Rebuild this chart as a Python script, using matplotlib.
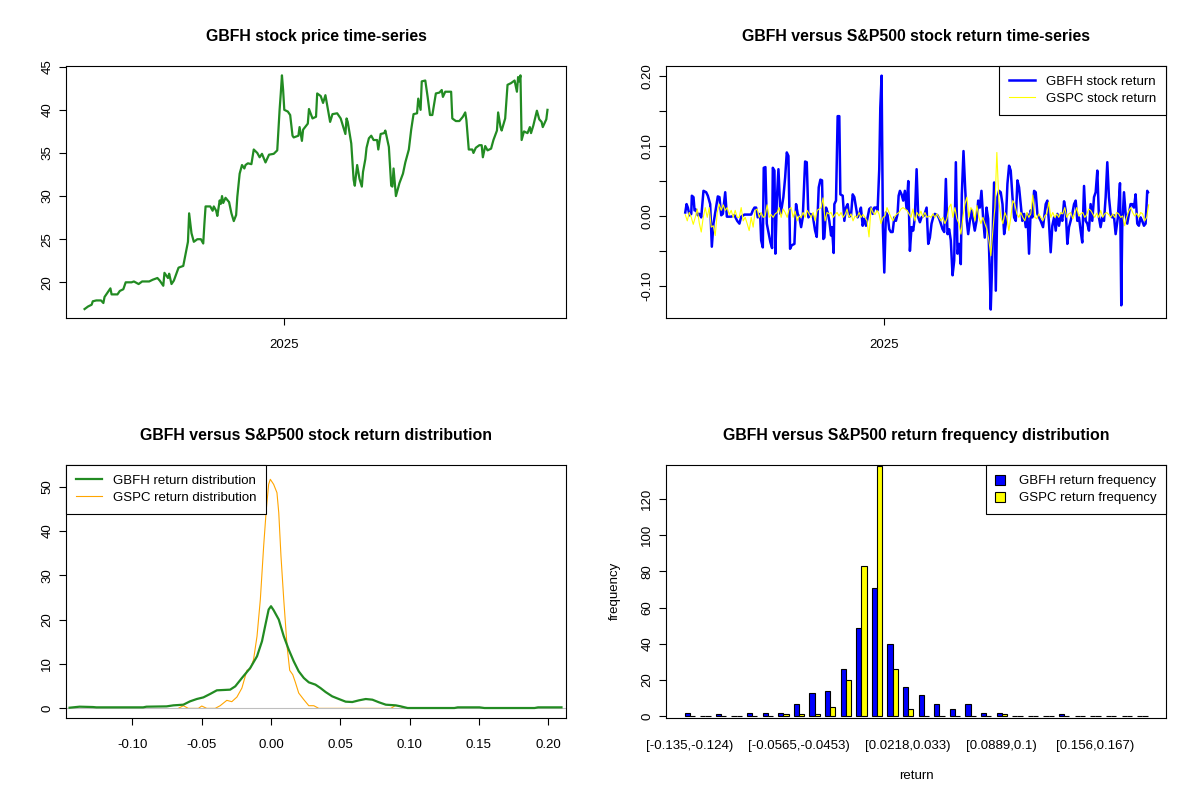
import matplotlib
matplotlib.use("Agg")
import matplotlib.pyplot as plt
import numpy as np
import pandas as pd

plt.rcParams['font.family'] = ['Liberation Sans', 'DejaVu Sans']

# first trading day of the GBFH series
start = pd.Timestamp('2024-07-15')

# GBFH price (days since start, close)
price_day = [0, 3, 6, 7, 10, 14, 16, 17, 20, 22,
             23, 28, 30, 33, 35, 40, 42, 46, 49, 55,
             58, 62, 64, 67, 68, 71, 72, 74, 76, 80,
             84, 86, 88, 89, 91, 93, 96, 99, 101, 102,
             103, 107, 109, 110, 112, 113, 115, 116, 117, 118,
             120, 123, 125, 127, 129, 130, 132, 134, 136, 137,
             139, 142, 144, 147, 149, 151, 154, 157, 161, 164,
             166, 167, 168, 169, 170, 173, 175, 177, 178, 182,
             183, 185, 186, 190, 191, 194, 197, 198, 201, 203,
             205, 209, 211, 215, 218, 222, 223, 224, 227, 229,
             230, 232, 234, 236, 237, 239, 240, 242, 244, 246,
             249, 250, 252, 255, 256, 259, 261, 262, 263, 265,
             268, 271, 273, 276, 278, 280, 283, 284, 286, 287,
             290, 292, 294, 296, 299, 302, 304, 305, 307, 312,
             313, 316, 319, 322, 324, 325, 327, 330, 331, 333,
             336, 338, 339, 341, 343, 346, 348, 351, 352, 354,
             355, 358, 359, 360, 363, 366, 368, 369, 370, 371,
             372, 374, 377, 379, 380, 382, 385, 387, 389, 390,
             392, 393, 394]
price = [16.9, 17.2, 17.4, 17.8, 17.9, 17.9, 17.6, 18.3, 18.9, 19.3,
         18.6, 18.6, 19.0, 19.2, 20.0, 20.0, 20.1, 19.8, 20.1, 20.1,
         20.3, 20.5, 20.2, 19.6, 21.1, 20.5, 21.0, 19.8, 20.2, 21.7,
         21.9, 23.3, 24.7, 28.0, 25.7, 24.7, 25.0, 25.0, 24.5, 26.8,
         28.8, 28.8, 28.3, 28.8, 28.3, 27.7, 29.5, 29.1, 30.0, 29.2,
         29.8, 29.3, 28.0, 27.1, 27.8, 29.9, 32.6, 33.6, 33.2, 33.6,
         33.8, 33.7, 35.4, 35.0, 34.5, 34.9, 33.9, 34.8, 34.9, 35.3,
         40.0, 41.9, 44.0, 42.3, 40.0, 39.8, 39.4, 37.0, 36.8, 37.0,
         38.0, 36.4, 37.7, 38.4, 40.1, 39.0, 39.2, 41.9, 41.6, 40.8,
         41.7, 38.6, 39.5, 39.6, 39.0, 37.2, 39.0, 38.6, 36.1, 31.9,
         31.2, 33.6, 32.0, 31.1, 32.8, 34.3, 35.6, 36.7, 37.0, 36.5,
         36.5, 35.4, 37.2, 37.3, 37.6, 35.7, 31.2, 31.1, 33.2, 30.0,
         31.5, 32.6, 33.9, 35.4, 37.7, 39.5, 39.6, 41.3, 40.0, 43.3,
         43.4, 41.5, 39.4, 39.4, 41.9, 42.0, 42.3, 41.5, 42.1, 42.1,
         39.0, 38.7, 38.7, 39.2, 39.7, 38.8, 35.4, 35.4, 35.0, 35.6,
         35.9, 35.9, 34.5, 35.8, 35.3, 35.5, 36.5, 37.6, 39.7, 38.0,
         37.6, 39.0, 41.0, 42.9, 43.1, 43.4, 42.1, 43.8, 43.3, 44.0,
         36.5, 37.5, 37.3, 38.0, 37.3, 38.2, 39.9, 38.9, 38.6, 38.0,
         38.6, 38.9, 40.0]

# GBFH daily return (days since start, return)
gbfh_day = [0.6, 1.7, 2.8, 4.2, 5.7, 6.2, 7.6, 8.5, 9.9, 11.3,
            12.7, 14.2, 16.1, 18.4, 19.8, 21.8, 23.2, 24.6, 28.3, 29.7,
            31.2, 32.6, 34.6, 36.0, 39.7, 42.5, 44.8, 46.7, 48.2, 51.0,
            56.7, 58.1, 59.5, 60.9, 62.3, 64.3, 65.2, 66.6, 67.4, 68.8,
            70.0, 71.4, 73.1, 74.5, 75.1, 76.5, 77.3, 78.5, 79.9, 81.6,
            82.7, 84.1, 85.6, 87.0, 88.4, 89.8, 91.2, 93.5, 94.9, 96.3,
            97.7, 99.2, 100.6, 102.6, 104.0, 105.4, 106.8, 109.1, 111.1, 112.5,
            114.2, 115.6, 117.0, 118.1, 119.0, 120.4, 121.8, 123.2, 124.7, 125.5,
            126.9, 127.5, 128.9, 130.3, 131.7, 132.6, 134.6, 136.0, 137.4, 138.8,
            140.2, 141.7, 143.1, 144.5, 145.9, 147.3, 148.7, 150.1, 151.6, 153.0,
            154.4, 155.8, 157.2, 158.6, 160.1, 161.5, 162.9, 164.3, 165.7, 166.6,
            167.7, 168.8, 170.0, 171.4, 172.8, 174.2, 175.6, 177.1, 178.5, 179.9,
            181.3, 182.2, 183.3, 184.7, 186.1, 187.5, 189.0, 190.4, 191.8, 193.2,
            194.6, 196.0, 197.5, 198.9, 200.3, 201.7, 204.0, 206.0, 207.4, 208.8,
            210.2, 211.6, 213.0, 215.3, 216.7, 218.1, 219.6, 221.0, 222.4, 223.8,
            225.2, 226.6, 228.1, 229.5, 230.9, 232.3, 233.7, 235.1, 236.0, 237.4,
            238.8, 240.2, 241.4, 242.8, 244.2, 245.6, 247.0, 248.5, 249.9, 251.3,
            252.7, 254.1, 255.5, 257.0, 258.4, 259.8, 260.6, 261.5, 262.6, 263.5,
            264.9, 266.3, 267.7, 269.1, 270.6, 272.0, 273.4, 274.8, 276.2, 277.6,
            279.1, 280.5, 281.9, 283.3, 284.7, 286.1, 287.5, 289.0, 290.4, 291.8,
            293.2, 294.6, 296.0, 297.5, 298.9, 300.3, 301.7, 303.1, 305.1, 307.4,
            308.8, 310.2, 311.6, 313.0, 314.5, 315.9, 317.3, 318.7, 320.1, 321.5,
            323.0, 324.4, 325.8, 327.2, 328.6, 330.0, 331.5, 332.9, 334.3, 335.7,
            337.1, 338.5, 340.0, 341.4, 342.8, 344.2, 345.6, 347.0, 348.5, 349.9,
            351.3, 352.7, 354.1, 355.5, 357.0, 358.4, 359.8, 361.2, 362.6, 364.0,
            365.4, 366.9, 368.8, 370.6, 371.7, 372.5, 374.0, 375.4, 376.8, 378.2,
            379.6, 381.0, 382.5, 383.9, 385.3, 386.7, 388.1, 389.5, 391.0, 392.4,
            393.8, 394.4]
gbfh_ret = [0.005, 0.017, 0.012, 0.001, 0.003, 0.029, 0.027, 0.008, 0.009, 0.001,
            0.003, -0.002, 0.036, 0.034, 0.029, 0.017, -0.044, -0.011, 0.028, 0.027,
            0.001, 0.003, 0.034, -0.001, -0.001, 0.001, -0.007, -0.011, -0.001, 0.002,
            0.002, 0.008, 0.012, 0.012, -0.002, 0.003, -0.035, -0.045, 0.069, 0.070,
            -0.011, -0.023, -0.038, -0.046, 0.069, 0.065, -0.054, 0.022, 0.067, 0.003,
            0.012, 0.027, 0.055, 0.091, 0.086, -0.047, -0.042, -0.040, 0.017, 0.003,
            -0.002, -0.016, -0.002, 0.078, 0.077, -0.002, 0.003, 0.001, -0.021, -0.030,
            0.041, 0.052, 0.051, -0.033, -0.031, 0.012, 0.005, -0.007, -0.028, -0.016,
            -0.053, 0.017, 0.022, 0.143, 0.143, 0.031, 0.029, -0.007, 0.012, 0.017,
            -0.001, 0.001, 0.031, 0.027, 0.012, -0.002, 0.003, 0.012, -0.014, -0.004,
            -0.014, -0.002, 0.010, 0.012, 0.003, 0.012, 0.012, 0.008, 0.067, 0.155,
            0.201, -0.016, -0.081, 0.005, 0.001, -0.019, -0.023, -0.023, -0.002, -0.007,
            0.003, 0.029, 0.036, 0.031, 0.022, 0.036, 0.010, 0.050, -0.050, -0.016,
            -0.021, -0.002, 0.067, -0.002, -0.009, -0.002, 0.001, 0.012, -0.040, -0.031,
            -0.011, -0.002, 0.003, 0.001, -0.004, -0.011, -0.019, -0.023, 0.053, -0.026,
            -0.019, -0.035, -0.085, -0.064, 0.077, -0.054, -0.040, -0.069, 0.031, 0.093,
            0.041, -0.007, -0.026, -0.007, 0.008, -0.007, -0.021, -0.007, 0.022, 0.012,
            0.036, -0.002, -0.031, 0.012, -0.004, -0.083, -0.134, -0.085, -0.002, 0.048,
            -0.107, 0.027, 0.036, 0.034, 0.017, -0.026, -0.011, 0.046, 0.072, 0.065,
            0.027, -0.002, -0.007, 0.051, 0.041, 0.017, -0.007, 0.003, -0.016, 0.003,
            -0.054, 0.008, -0.002, 0.036, 0.034, 0.003, -0.002, -0.007, -0.016, 0.017,
            0.022, -0.011, -0.052, -0.014, -0.002, -0.021, 0.003, -0.014, 0.001, -0.007,
            0.021, 0.008, -0.040, -0.016, -0.007, 0.003, 0.017, 0.022, -0.007, -0.002,
            -0.021, -0.038, 0.043, -0.007, -0.011, -0.021, 0.017, -0.007, 0.027, 0.034,
            0.065, -0.002, -0.016, -0.002, -0.007, 0.027, 0.077, 0.027, 0.003, -0.002,
            0.001, -0.026, -0.002, 0.047, -0.128, -0.016, 0.034, 0.003, -0.011, 0.003,
            0.017, 0.017, 0.012, 0.031, -0.011, -0.014, -0.002, -0.007, -0.014, -0.011,
            0.036, 0.034]

# S&P500 (GSPC) return, read at an even step over the same period
gspc_ret = [0.002, -0.007, 0.005, -0.002, -0.012, -0.002, 0.010, -0.010, -0.023, -0.002,
            0.012, -0.002, 0.012, -0.016, -0.014, -0.028, 0.005, 0.017, 0.008, 0.016,
            0.008, 0.012, 0.002, 0.008, -0.002, 0.008, -0.002, -0.002, 0.012, -0.007,
            -0.002, -0.011, -0.021, -0.002, -0.016, 0.008, 0.010, -0.002, 0.005, -0.002,
            0.000, 0.016, -0.002, 0.002, -0.002, 0.003, 0.005, 0.012, -0.002, 0.010,
            0.005, -0.002, 0.010, 0.012, -0.002, 0.007, -0.007, 0.000, -0.002, 0.005,
            -0.002, 0.008, 0.003, -0.002, 0.005, -0.007, 0.008, 0.010, 0.012, 0.026,
            -0.007, 0.005, 0.003, 0.005, -0.002, 0.002, 0.005, 0.000, 0.005, -0.002,
            0.002, 0.010, -0.002, 0.003, -0.007, 0.000, -0.002, 0.005, -0.002, 0.002,
            -0.002, -0.007, -0.030, 0.012, 0.005, 0.002, 0.008, 0.003, -0.011, -0.002,
            0.000, 0.012, 0.005, -0.002, -0.007, 0.000, 0.003, 0.005, 0.010, 0.012,
            0.010, 0.008, 0.003, -0.002, 0.010, -0.007, 0.005, 0.000, 0.007, -0.002,
            0.005, -0.002, 0.000, -0.002, 0.003, -0.002, 0.003, -0.002, -0.007, -0.002,
            -0.011, -0.004, 0.012, 0.017, -0.002, 0.012, -0.004, -0.011, -0.026, -0.002,
            0.017, 0.027, -0.002, 0.012, 0.008, -0.007, 0.015, -0.002, -0.011, -0.002,
            -0.011, -0.019, -0.035, -0.057, -0.021, 0.012, 0.091, 0.022, -0.002, -0.011,
            0.005, -0.002, -0.021, -0.002, 0.022, 0.017, 0.003, -0.002, 0.005, -0.002,
            -0.007, 0.005, -0.002, 0.003, 0.030, -0.002, -0.004, 0.003, -0.002, -0.007,
            0.000, 0.003, 0.020, -0.002, 0.005, -0.002, 0.003, -0.002, 0.005, 0.003,
            0.012, -0.002, 0.003, 0.005, -0.004, 0.003, 0.012, 0.000, 0.003, 0.005,
            -0.002, 0.002, 0.010, 0.008, 0.003, -0.002, 0.004, -0.002, 0.008, -0.002,
            0.003, 0.005, 0.002, -0.002, 0.003, -0.002, 0.005, 0.003, -0.002, 0.000,
            -0.014, -0.002, 0.007, 0.012, 0.005, 0.000, 0.004, -0.002, 0.005, 0.003,
            -0.007, -0.002, 0.016]

# kernel density of both return series
gbfh_dens_x = [-0.1454, -0.1382, -0.1285, -0.1261, -0.0923, -0.0899, -0.0754, -0.0705, -0.0633, -0.0585,
               -0.0536, -0.0488, -0.0440, -0.0391, -0.0295, -0.0258, -0.0210, -0.0150, -0.0101, -0.0065,
               -0.0041, -0.0017, 0.0, 0.0019, 0.0056, 0.0092, 0.0128, 0.0164, 0.0200, 0.0237,
               0.0273, 0.0321, 0.0357, 0.0394, 0.0442, 0.0490, 0.0539, 0.0587, 0.0635, 0.0684,
               0.0732, 0.0780, 0.0829, 0.0901, 0.0937, 0.0986, 0.1324, 0.1348, 0.1505, 0.1541,
               0.1903, 0.1928, 0.2097]
gbfh_dens = [0.15, 0.38, 0.30, 0.23, 0.23, 0.38, 0.45, 0.68, 0.83, 1.58,
             2.11, 2.48, 3.24, 4.07, 4.22, 4.97, 6.85, 9.11, 11.75, 15.14,
             18.75, 22.29, 23.04, 22.14, 20.03, 16.27, 13.25, 10.62, 8.36, 6.85,
             5.87, 5.35, 4.59, 3.69, 2.71, 2.11, 1.51, 1.43, 1.81, 2.11,
             1.96, 1.36, 0.83, 0.68, 0.45, 0.08, 0.08, 0.23, 0.23, 0.08,
             0.08, 0.23, 0.23]
gspc_dens_x = [-0.0669, -0.0633, -0.0597, -0.0524, -0.0500, -0.0464, -0.0403, -0.0367, -0.0319, -0.0283,
               -0.0246, -0.0210, -0.0174, -0.0150, -0.0126, -0.0101, -0.0077, -0.0053, -0.0034, -0.0017,
               -0.0005, 0.0019, 0.0043, 0.0056, 0.0072, 0.0092, 0.0116, 0.0135, 0.0157, 0.0176,
               0.0200, 0.0237, 0.0273, 0.0309, 0.0345, 0.0865, 0.0896, 0.0925, 0.0961]
gspc_dens = [0, 0.60, 0, 0, 0.53, 0, 0, 0.60, 1.81, 1.51,
             2.56, 4.59, 8.58, 8.89, 10.99, 16.27, 24.55, 36.60, 44.88, 50.53,
             51.66, 50.53, 48.64, 44.13, 34.34, 24.55, 14.01, 8.58, 7.60, 5.87,
             3.46, 1.96, 0.60, 0.60, 0, 0, 0.60, 0.60, 0]

# frequency table, 30 bins
bin_labels = ["[-0.135,-0.124)", "[-0.124,-0.112)", "[-0.112,-0.101)", "[-0.101,-0.0901)",
              "[-0.0901,-0.0789)", "[-0.0789,-0.0677)", "[-0.0677,-0.0565)", "[-0.0565,-0.0453)",
              "[-0.0453,-0.0341)", "[-0.0341,-0.023)", "[-0.023,-0.0118)", "[-0.0118,-0.000585)",
              "[-0.000585,0.0106)", "[0.0106,0.0218)", "[0.0218,0.033)", "[0.033,0.0442)",
              "[0.0442,0.0553)", "[0.0553,0.0665)", "[0.0665,0.0777)", "[0.0777,0.0889)",
              "[0.0889,0.1)", "[0.1,0.111)", "[0.111,0.122)", "[0.122,0.134)",
              "[0.134,0.145)", "[0.145,0.156)", "[0.156,0.167)", "[0.167,0.178)",
              "[0.178,0.19)", "[0.19,0.201]"]
gbfh_freq = [2, 0, 1, 0, 2, 2, 2, 7, 13, 14, 26, 49, 71, 40, 16, 12, 7, 4, 7, 2,
             2, 0, 0, 0, 1, 0, 0, 0, 0, 0]
gspc_freq = [0, 0, 0, 0, 0, 0, 1, 1, 1, 5, 20, 83, 138, 26, 4, 0, 0, 0, 0, 0,
             1, 0, 0, 0, 0, 0, 0, 0, 0, 0]
shown_labels = [0, 7, 14, 20, 26]  # the ones R keeps without overlap

FS = 9.5
TFS = 11.4


def style(ax):
    for s in ax.spines.values():
        s.set_linewidth(0.8)
        s.set_color('black')
    ax.tick_params(direction='out', length=5.2, width=0.8, labelsize=FS, color='black')
    ax.tick_params(axis='x', pad=10)
    ax.tick_params(axis='y', pad=4)
    for lab in ax.get_yticklabels():
        lab.set_rotation(90)
        lab.set_va('center')


def legend(ax, loc, **kw):
    leg = ax.legend(loc=loc, fontsize=FS, frameon=True, fancybox=False, framealpha=1,
                    edgecolor='black', borderaxespad=0, borderpad=0.75, **kw)
    leg.get_frame().set_linewidth(0.8)
    return leg


fig = plt.figure(figsize=(12, 8), dpi=100)
ax1 = fig.add_axes([0.055, 0.6029, 0.4167, 0.315])
ax2 = fig.add_axes([0.555, 0.6029, 0.4167, 0.315])
ax3 = fig.add_axes([0.055, 0.1029, 0.4167, 0.3159])
ax4 = fig.add_axes([0.555, 0.1029, 0.4167, 0.3159])

xlim_dates = (start - pd.Timedelta(days=15.8), start + pd.Timedelta(days=409.8))
tick_2025 = pd.Timestamp('2025-01-01')

# price
px = start + pd.to_timedelta(price_day, unit='D')
ax1.plot(px, price, color='#228B22', lw=1.6)
ax1.set_xlim(*xlim_dates)
ax1.set_ylim(15.9, 45.12)
ax1.set_xticks([tick_2025])
ax1.set_xticklabels(['2025'])
ax1.set_yticks([20, 25, 30, 35, 40, 45])
ax1.set_title('GBFH stock price time-series', fontsize=TFS, fontweight='bold', pad=18)
style(ax1)

# returns
gx = start + pd.to_timedelta(gbfh_day, unit='D')
sx = start + pd.to_timedelta(np.linspace(0.6, 395.0, len(gspc_ret)), unit='D')
ax2.plot(gx, gbfh_ret, color='blue', lw=1.8, label='GBFH stock return')
ax2.plot(sx, gspc_ret, color='yellow', lw=0.8, label='GSPC stock return')
ax2.set_xlim(*xlim_dates)
ax2.set_ylim(-0.1457, 0.2153)
ax2.set_xticks([tick_2025])
ax2.set_xticklabels(['2025'])
ax2.set_yticks([-0.10, -0.05, 0.0, 0.05, 0.10, 0.15, 0.20])
ax2.set_yticklabels(['-0.10', '', '0.00', '', '0.10', '', '0.20'])
ax2.set_title('GBFH versus S&P500 stock return time-series', fontsize=TFS, fontweight='bold', pad=18)
style(ax2)
legend(ax2, 'upper right', handlelength=2.0, handletextpad=0.8, labelspacing=0.35)

# density
ax3.plot(gspc_dens_x, gspc_dens, color='orange', lw=0.8, zorder=2,
         label='GSPC return distribution')
ax3.axhline(0, color='#BEBEBE', lw=0.8, zorder=2.5)
ax3.plot(gbfh_dens_x, gbfh_dens, color='#228B22', lw=1.6, zorder=3,
         label='GBFH return distribution')
ax3.set_xlim(-0.148, 0.213)
ax3.set_ylim(-2.1, 54.9)
ax3.set_xticks([-0.10, -0.05, 0.0, 0.05, 0.10, 0.15, 0.20])
ax3.set_xticklabels(['-0.10', '-0.05', '0.00', '0.05', '0.10', '0.15', '0.20'])
ax3.set_yticks([0, 10, 20, 30, 40, 50])
ax3.set_title('GBFH versus S&P500 stock return distribution', fontsize=TFS, fontweight='bold', pad=18)
style(ax3)
h, l = ax3.get_legend_handles_labels()
legend(ax3, 'upper left', handles=h[::-1], labels=l[::-1], handlelength=2.0,
       handletextpad=0.8, labelspacing=0.35)

# frequency bars, R barplot(beside=TRUE) layout
grp = np.arange(len(bin_labels))
ax4.bar(3 * grp + 1.5, gbfh_freq, width=1.0, color='blue', edgecolor='black',
        linewidth=0.8, label='GBFH return frequency')
ax4.bar(3 * grp + 2.5, gspc_freq, width=1.0, color='yellow', edgecolor='black',
        linewidth=0.8, label='GSPC return frequency')
ax4.set_xlim(1 - 3.56, 3 * len(bin_labels) + 3.56)
ax4.set_ylim(-0.8, 138.8)
ax4.set_xticks([3 * g + 2 for g in shown_labels])
ax4.set_xticklabels([bin_labels[g] for g in shown_labels])
ax4.set_yticks([0, 20, 40, 60, 80, 100, 120])
ax4.set_xlabel('return', fontsize=FS, labelpad=13)
ax4.set_ylabel('frequency', fontsize=FS, labelpad=15)
ax4.set_title('GBFH versus S&P500 return frequency distribution', fontsize=TFS, fontweight='bold', pad=18)
style(ax4)
ax4.tick_params(axis='x', length=0, pad=16)
legend(ax4, 'upper right', handlelength=0.75, handleheight=0.75, handletextpad=1.0,
       labelspacing=0.35)

fig.savefig('out.png', dpi=100, facecolor='white')
